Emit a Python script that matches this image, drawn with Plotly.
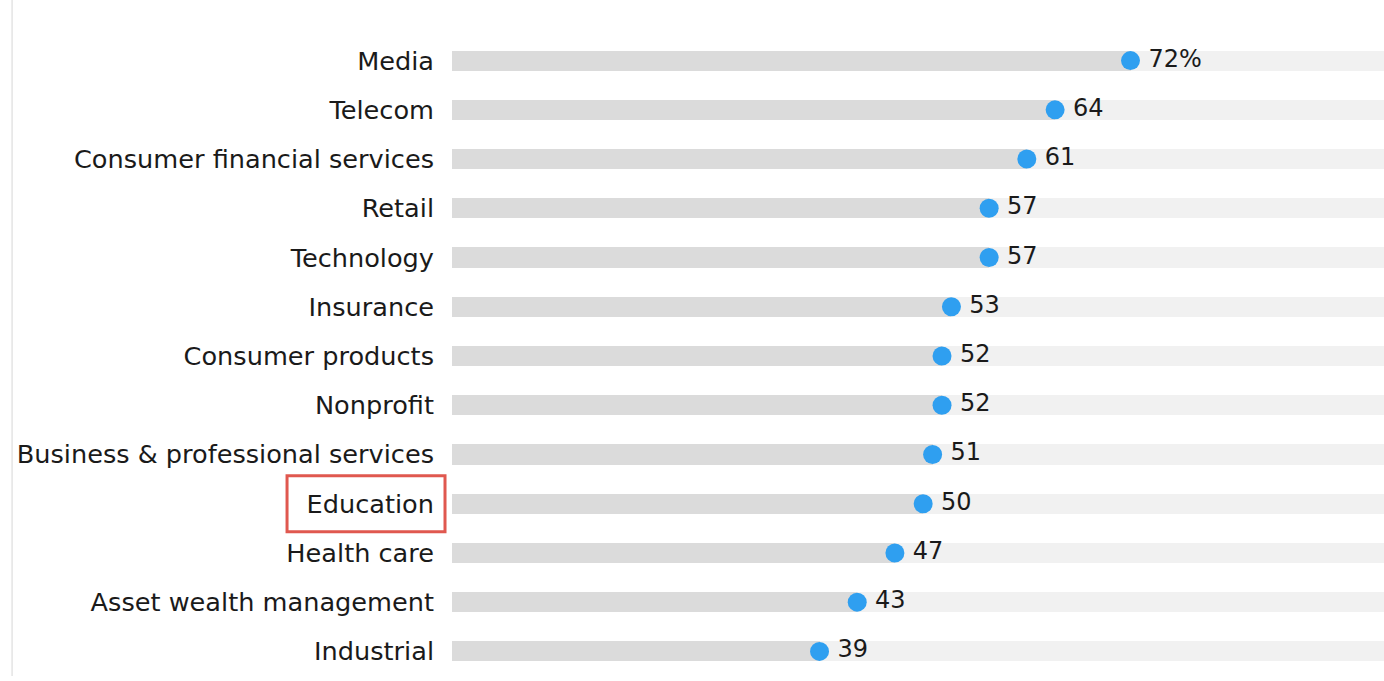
import plotly.graph_objects as go

categories = ["Media", "Telecom", "Consumer financial services", "Retail", "Technology",
              "Insurance", "Consumer products", "Nonprofit", "Business & professional services",
              "Education", "Health care", "Asset wealth management", "Industrial"]
values = [72, 64, 61, 57, 57, 53, 52, 52, 51, 50, 47, 43, 39]
value_labels = ["72%", "64", "61", "57", "57", "53", "52", "52", "51", "50", "47", "43", "39"]
track_max = [100] * len(categories)
highlight = "Education"

FONT = "DejaVu Sans"
INK = "#1a1a1a"

fig = go.Figure()
fig.add_trace(go.Bar(y=categories, x=track_max, orientation="h", width=0.41,
                     marker=dict(color="#f1f1f1", line=dict(width=0)), hoverinfo="skip"))
fig.add_trace(go.Bar(y=categories, x=values, orientation="h", width=0.41,
                     marker=dict(color="#dbdbdb", line=dict(width=0))))
# value labels (transparent, larger marker gives the text offset)
fig.add_trace(go.Scatter(y=categories, x=values, mode="markers+text", text=value_labels,
                         textposition="middle right",
                         textfont=dict(family=FONT, size=24, color=INK),
                         marker=dict(size=27, color="rgba(0,0,0,0)"), hoverinfo="skip"))
fig.add_trace(go.Scatter(y=categories, x=values, mode="markers",
                         marker=dict(size=19, color="#2f9ff0")))

hi = categories.index(highlight)
fig.add_shape(type="rect", xref="paper", yref="y", x0=-0.177, x1=-0.0075,
              y0=hi - 0.57, y1=hi + 0.57, line=dict(color="#e0584f", width=3),
              fillcolor="rgba(0,0,0,0)", layer="above")
fig.add_shape(type="line", xref="paper", yref="paper", x0=-0.472, x1=-0.472, y0=0, y1=1.1,
              line=dict(color="#e4e4e4", width=1.5))

fig.update_layout(
    width=1384, height=681, barmode="overlay", showlegend=False,
    paper_bgcolor="white", plot_bgcolor="white",
    margin=dict(l=452, r=0, t=36, b=5),
    bargap=0,
    xaxis=dict(range=[0, 98.9], visible=False, fixedrange=True),
    yaxis=dict(categoryorder="array", categoryarray=categories, range=[12.5, -0.5],
               showgrid=False, zeroline=False, showline=False, ticks="",
               ticklabelstandoff=17,
               tickfont=dict(family=FONT, size=25.6, color=INK)),
)
fig.write_html("out.html", config={"displayModeBar": False},
               post_script="document.body.style.margin='0';")
